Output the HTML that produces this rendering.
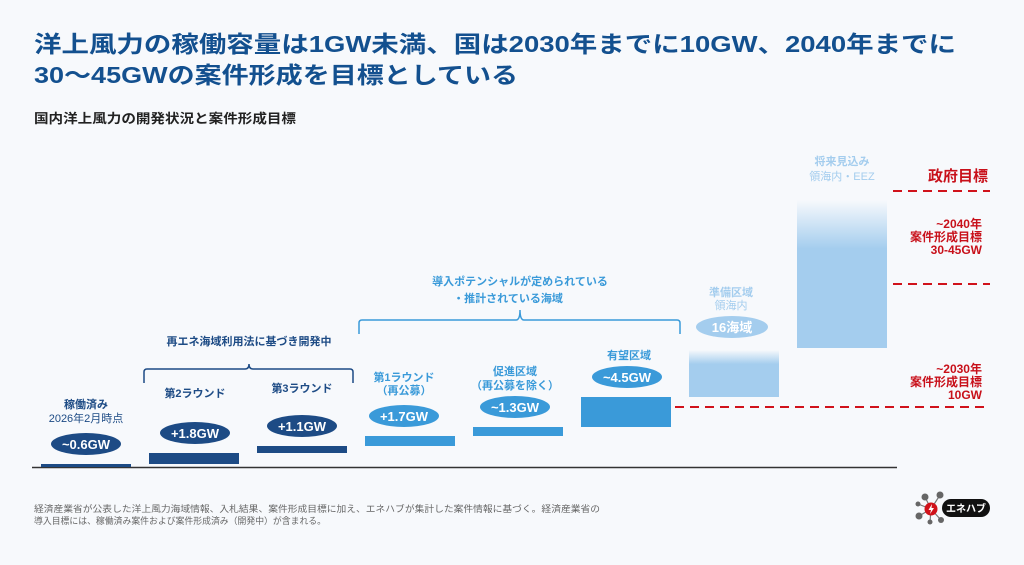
<!DOCTYPE html>
<html><head><meta charset="utf-8"><style>
html,body{margin:0;padding:0;background:#f7f9fc;}
svg{display:block;}
text{font-family:"Liberation Sans","Noto Sans CJK JP",sans-serif;}
</style></head><body>
<svg width="1024" height="565" viewBox="0 0 1024 565" xmlns="http://www.w3.org/2000/svg">
<defs>
<linearGradient id="g1" x1="0" y1="0" x2="0" y2="1">
<stop offset="0" stop-color="#a4cdee" stop-opacity="0"/>
<stop offset="0.3" stop-color="#a4cdee" stop-opacity="1"/>
<stop offset="1" stop-color="#a4cdee"/>
</linearGradient>
<linearGradient id="g2" x1="0" y1="0" x2="0" y2="1">
<stop offset="0" stop-color="#a4cdee" stop-opacity="0"/>
<stop offset="0.33" stop-color="#a4cdee" stop-opacity="1"/>
<stop offset="1" stop-color="#a4cdee"/>
</linearGradient>
</defs>
<rect width="1024" height="565" fill="#f7f9fc"/>
<text x="34" y="52" font-size="23" font-weight="bold" fill="#13508f" textLength="922" lengthAdjust="spacingAndGlyphs">洋上風力の稼働容量は1GW未満、国は2030年までに10GW、2040年までに</text>
<text x="34" y="83" font-size="23" font-weight="bold" fill="#13508f" textLength="484" lengthAdjust="spacingAndGlyphs">30〜45GWの案件形成を目標としている</text>
<text x="34" y="123" font-size="13" font-weight="bold" fill="#222" textLength="262" lengthAdjust="spacingAndGlyphs">国内洋上風力の開発状況と案件形成目標</text>

<!-- axis -->
<line x1="32" y1="467.5" x2="897" y2="467.5" stroke="#333" stroke-width="1.5"/>

<!-- bars -->
<rect x="41" y="464" width="90" height="3" fill="#1d4b85"/>
<rect x="149" y="453" width="90" height="11" fill="#1d4b85"/>
<rect x="257" y="446" width="90" height="7" fill="#1d4b85"/>
<rect x="365" y="436" width="90" height="10" fill="#3a9ad9"/>
<rect x="473" y="427" width="90" height="9" fill="#3a9ad9"/>
<rect x="581" y="397" width="90" height="30" fill="#3a9ad9"/>
<rect x="689" y="350" width="90" height="47" fill="url(#g1)"/>
<rect x="797" y="200" width="90" height="148" fill="url(#g2)"/>

<!-- red dashed -->
<line x1="675" y1="407" x2="990" y2="407" stroke="#d0121b" stroke-width="2" stroke-dasharray="9,6"/>
<line x1="893" y1="284" x2="990" y2="284" stroke="#d0121b" stroke-width="2" stroke-dasharray="9,6"/>
<line x1="893" y1="191" x2="990" y2="191" stroke="#d0121b" stroke-width="2" stroke-dasharray="9,6"/>

<!-- ellipses -->
<g font-weight="bold" font-size="13" fill="#fff" text-anchor="middle">
<ellipse cx="86" cy="444" rx="35" ry="11" fill="#1d4b85"/><text x="86" y="449">~0.6GW</text>
<ellipse cx="195" cy="433" rx="35" ry="11" fill="#1d4b85"/><text x="195" y="438">+1.8GW</text>
<ellipse cx="302" cy="426" rx="35" ry="11" fill="#1d4b85"/><text x="302" y="431">+1.1GW</text>
<ellipse cx="404" cy="416" rx="35" ry="11" fill="#3a9ad9"/><text x="404" y="421">+1.7GW</text>
<ellipse cx="515" cy="407" rx="35" ry="11" fill="#3a9ad9"/><text x="515" y="412">~1.3GW</text>
<ellipse cx="627" cy="377" rx="35" ry="11" fill="#3a9ad9"/><text x="627" y="382">~4.5GW</text>
<ellipse cx="732" cy="327" rx="36" ry="11" fill="#a4cdee"/><text x="732" y="332">16海域</text>
</g>

<!-- labels -->
<g text-anchor="middle" font-size="11" font-weight="bold">
<text x="86" y="408" fill="#1d4b85">稼働済み</text>
<text x="86" y="422" fill="#1d4b85" font-weight="normal">2026年2月時点</text>
<text x="195" y="397" fill="#1d4b85">第2ラウンド</text>
<text x="302" y="392" fill="#1d4b85">第3ラウンド</text>
<text x="404" y="381" fill="#3a9ad9">第1ラウンド</text>
<text x="404" y="394" fill="#3a9ad9">（再公募）</text>
<text x="515" y="375" fill="#3a9ad9">促進区域</text>
<text x="515" y="389" fill="#3a9ad9">（再公募を除く）</text>
<text x="629" y="359" fill="#3a9ad9">有望区域</text>
<text x="731" y="296" fill="#a4cdee">準備区域</text>
<text x="731" y="309" fill="#a4cdee" font-weight="normal">領海内</text>
<text x="842" y="165" fill="#a4cdee">将来見込み</text>
<text x="842" y="180" fill="#a4cdee" font-weight="normal">領海内・EEZ</text>
<text x="249" y="345" fill="#1d4b85">再エネ海域利用法に基づき開発中</text>
<text x="520" y="285" fill="#3a9ad9">導入ポテンシャルが定められている</text>
<text x="508" y="302" fill="#3a9ad9">・推計されている海域</text>
</g>

<!-- braces -->
<path d="M144,383 V372 Q144,369 147,369 H245 Q249,369 249,364 Q249,369 253,369 H350 Q353,369 353,372 V383" fill="none" stroke="#1d4b85" stroke-width="1.5"/>
<path d="M359,334 V323 Q359,320 362,320 H516 Q520,320 520,310 Q520,320 524,320 H677 Q680,320 680,323 V334" fill="none" stroke="#3a9ad9" stroke-width="1.5"/>

<!-- red targets -->
<g fill="#c8101a" font-weight="bold" text-anchor="end">
<text x="988" y="181" font-size="15">政府目標</text>
<text x="982" y="228" font-size="12">~2040年</text>
<text x="982" y="241" font-size="12">案件形成目標</text>
<text x="982" y="254" font-size="12">30-45GW</text>
<text x="982" y="373" font-size="12">~2030年</text>
<text x="982" y="386" font-size="12">案件形成目標</text>
<text x="982" y="399" font-size="12">10GW</text>
</g>

<!-- footnote -->
<text x="34" y="512" font-size="9" fill="#666" textLength="566" lengthAdjust="spacingAndGlyphs">経済産業省が公表した洋上風力海域情報、入札結果、案件形成目標に加え、エネハブが集計した案件情報に基づく。経済産業省の</text>
<text x="34" y="524" font-size="9" fill="#666" textLength="292" lengthAdjust="spacingAndGlyphs">導入目標には、稼働済み案件および案件形成済み（開発中）が含まれる。</text>

<!-- logo -->
<g stroke="#777" stroke-width="1.2">
<line x1="931" y1="509" x2="925" y2="497"/><line x1="931" y1="509" x2="940" y2="495"/>
<line x1="931" y1="509" x2="918" y2="504"/><line x1="931" y1="509" x2="919" y2="516"/>
<line x1="931" y1="509" x2="930" y2="522"/><line x1="931" y1="509" x2="941" y2="520"/>
</g>
<g fill="#666">
<circle cx="925" cy="497" r="3.5"/><circle cx="940" cy="495" r="3.5"/><circle cx="918" cy="504" r="2.5"/>
<circle cx="919" cy="516" r="3.5"/><circle cx="930" cy="522" r="2.5"/><circle cx="941" cy="520" r="3"/>
</g>
<circle cx="931" cy="509" r="6.5" fill="#d0121b"/>
<path d="M932,504 L928.5,510 H931 L930,514 L934,508 H931.5 Z" fill="#fff"/>
<rect x="942" y="499" width="48" height="18" rx="9" fill="#111"/>
<text x="966" y="512" font-size="10" font-weight="bold" fill="#fff" text-anchor="middle">エネハブ</text>
</svg>
</body></html>
